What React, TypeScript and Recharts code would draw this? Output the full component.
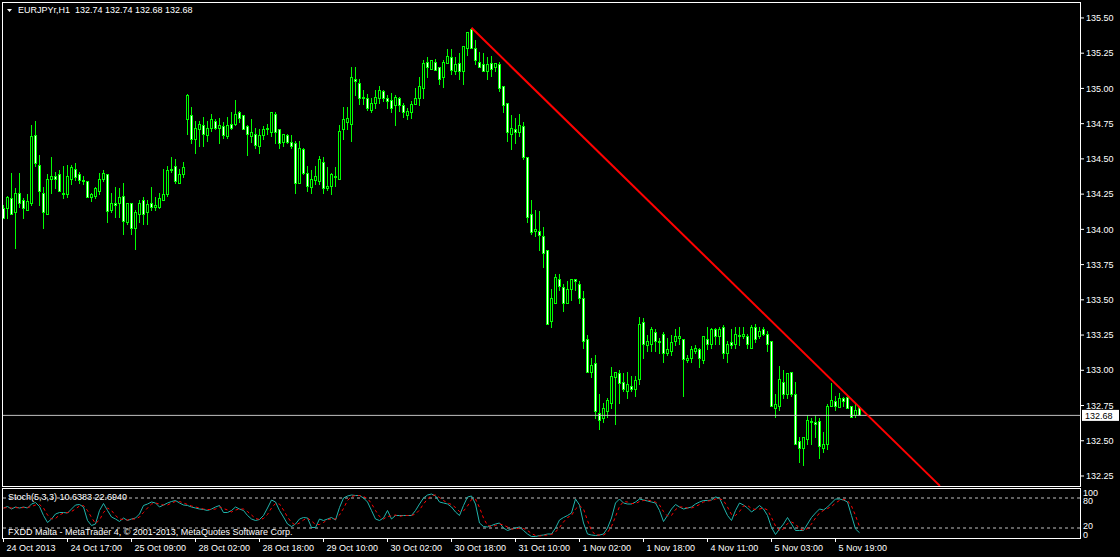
import React from 'react';
import { ComposedChart, LineChart, Line, Bar, XAxis, YAxis, ReferenceLine } from 'recharts';

// EURJPYr H1 bars: [open, high, low, close]
const ohlc: [number, number, number, number][] = [
  [134.15, 134.17, 134.08, 134.08], [134.15, 134.24, 134.08, 134.23], [134.22, 134.40, 134.11, 134.11], [134.12, 134.29, 133.87, 134.26],
  [134.26, 134.40, 134.16, 134.19], [134.21, 134.22, 134.08, 134.15], [134.14, 134.25, 134.14, 134.20], [134.19, 134.74, 134.17, 134.66],
  [134.67, 134.77, 134.45, 134.47], [134.46, 134.53, 134.17, 134.27], [134.26, 134.30, 134.01, 134.12], [134.11, 134.39, 134.11, 134.36],
  [134.36, 134.51, 134.26, 134.38], [134.38, 134.41, 134.29, 134.36], [134.39, 134.42, 134.27, 134.27], [134.26, 134.45, 134.22, 134.25],
  [134.25, 134.46, 134.23, 134.38], [134.36, 134.46, 134.32, 134.44], [134.43, 134.47, 134.35, 134.37], [134.39, 134.41, 134.33, 134.35],
  [134.35, 134.38, 134.32, 134.34], [134.34, 134.34, 134.23, 134.23], [134.23, 134.26, 134.20, 134.25], [134.24, 134.30, 134.22, 134.29],
  [134.27, 134.40, 134.25, 134.36], [134.36, 134.42, 134.34, 134.40], [134.39, 134.39, 134.05, 134.13], [134.14, 134.26, 134.12, 134.19],
  [134.19, 134.30, 134.09, 134.17], [134.19, 134.29, 134.09, 134.23], [134.24, 134.33, 133.97, 134.06], [134.05, 134.19, 134.04, 134.19],
  [134.19, 134.19, 133.97, 134.01], [134.01, 134.14, 133.86, 134.12], [134.11, 134.21, 134.05, 134.19], [134.21, 134.23, 134.04, 134.11],
  [134.12, 134.21, 134.04, 134.18], [134.19, 134.30, 134.14, 134.16], [134.16, 134.23, 134.14, 134.17], [134.16, 134.26, 134.15, 134.22],
  [134.21, 134.43, 134.21, 134.25], [134.25, 134.45, 134.24, 134.42], [134.42, 134.51, 134.41, 134.43], [134.45, 134.50, 134.33, 134.34],
  [134.33, 134.43, 134.33, 134.39], [134.39, 134.48, 134.37, 134.44], [134.78, 134.96, 134.68, 134.95], [134.81, 134.87, 134.61, 134.64],
  [134.64, 134.77, 134.54, 134.72], [134.71, 134.77, 134.59, 134.75], [134.74, 134.80, 134.59, 134.68], [134.67, 134.77, 134.63, 134.72],
  [134.72, 134.82, 134.70, 134.78], [134.77, 134.78, 134.71, 134.72], [134.72, 134.79, 134.61, 134.74], [134.73, 134.76, 134.65, 134.67],
  [134.66, 134.80, 134.65, 134.74], [134.75, 134.83, 134.71, 134.72], [134.75, 134.92, 134.74, 134.82], [134.83, 134.84, 134.76, 134.79],
  [134.81, 134.81, 134.71, 134.71], [134.73, 134.74, 134.53, 134.68], [134.66, 134.78, 134.62, 134.69], [134.68, 134.72, 134.58, 134.60],
  [134.59, 134.71, 134.54, 134.67], [134.67, 134.73, 134.64, 134.71], [134.71, 134.75, 134.68, 134.72], [134.69, 134.83, 134.66, 134.83],
  [134.82, 134.83, 134.61, 134.69], [134.71, 134.71, 134.58, 134.61], [134.62, 134.68, 134.59, 134.68], [134.67, 134.68, 134.61, 134.62],
  [134.62, 134.67, 134.58, 134.59], [134.61, 134.63, 134.26, 134.33], [134.33, 134.63, 134.33, 134.58], [134.57, 134.58, 134.39, 134.40],
  [134.40, 134.45, 134.27, 134.31], [134.30, 134.42, 134.26, 134.36], [134.35, 134.45, 134.32, 134.38], [134.34, 134.52, 134.32, 134.50],
  [134.48, 134.51, 134.26, 134.29], [134.29, 134.44, 134.28, 134.31], [134.31, 134.40, 134.25, 134.39], [134.38, 134.44, 134.31, 134.37],
  [134.36, 134.74, 134.36, 134.70], [134.71, 134.87, 134.64, 134.78], [134.76, 134.87, 134.71, 134.79], [134.75, 135.15, 134.63, 135.08],
  [135.07, 135.15, 134.95, 135.05], [135.04, 135.07, 134.89, 134.93], [134.93, 134.99, 134.89, 134.94], [134.93, 134.96, 134.85, 134.86],
  [134.85, 134.93, 134.83, 134.90], [134.90, 134.99, 134.86, 134.94], [134.93, 135.02, 134.90, 134.99], [134.98, 134.99, 134.91, 134.93],
  [134.93, 134.95, 134.86, 134.91], [134.92, 134.97, 134.83, 134.86], [134.88, 134.95, 134.74, 134.94], [134.93, 134.94, 134.84, 134.88],
  [134.88, 134.90, 134.80, 134.83], [134.81, 134.86, 134.78, 134.84], [134.83, 134.91, 134.79, 134.89], [134.89, 135.00, 134.89, 134.93],
  [134.93, 135.08, 134.88, 135.02], [135.00, 135.20, 134.93, 135.18], [135.19, 135.22, 135.08, 135.15], [135.14, 135.20, 135.14, 135.20],
  [135.19, 135.21, 135.13, 135.13], [135.15, 135.15, 135.03, 135.07], [135.08, 135.20, 135.01, 135.19], [135.18, 135.28, 135.18, 135.23],
  [135.22, 135.28, 135.10, 135.13], [135.12, 135.22, 135.10, 135.17], [135.18, 135.25, 135.07, 135.12], [135.12, 135.30, 135.03, 135.30],
  [135.29, 135.40, 135.24, 135.40], [135.42, 135.43, 135.29, 135.29], [135.29, 135.34, 135.17, 135.20], [135.19, 135.26, 135.15, 135.15],
  [135.17, 135.25, 135.12, 135.12], [135.12, 135.22, 135.07, 135.17], [135.18, 135.23, 135.09, 135.14], [135.15, 135.18, 135.12, 135.18],
  [135.17, 135.19, 134.98, 135.00], [135.02, 135.02, 134.83, 134.88], [134.90, 134.90, 134.63, 134.69], [134.68, 134.81, 134.57, 134.72],
  [134.71, 134.79, 134.61, 134.69], [134.69, 134.82, 134.66, 134.74], [134.73, 134.76, 134.50, 134.51], [134.51, 134.51, 134.05, 134.09],
  [134.11, 134.21, 133.97, 133.98], [133.99, 134.14, 133.95, 134.00], [133.99, 134.13, 133.85, 133.96], [133.95, 134.02, 133.73, 133.83],
  [133.85, 133.85, 133.33, 133.33], [133.35, 133.58, 133.31, 133.51], [133.48, 133.68, 133.48, 133.66], [133.65, 133.68, 133.57, 133.60],
  [133.59, 133.61, 133.42, 133.48], [133.48, 133.63, 133.48, 133.58], [133.58, 133.65, 133.50, 133.65], [133.65, 133.65, 133.57, 133.63],
  [133.61, 133.63, 133.48, 133.51], [133.51, 133.56, 133.16, 133.21], [133.22, 133.25, 132.99, 132.99], [132.99, 133.09, 132.95, 133.04],
  [133.05, 133.11, 132.66, 132.71], [132.70, 132.83, 132.58, 132.65], [132.66, 132.77, 132.63, 132.73], [132.71, 132.80, 132.67, 132.79],
  [132.77, 133.02, 132.73, 132.96], [132.95, 132.99, 132.62, 132.99], [132.98, 133.00, 132.77, 132.91], [132.92, 132.98, 132.85, 132.87],
  [132.85, 132.99, 132.80, 132.90], [132.89, 132.96, 132.85, 132.87], [132.87, 132.96, 132.82, 132.93], [132.94, 133.38, 132.90, 133.33],
  [133.34, 133.37, 133.09, 133.19], [133.18, 133.25, 133.14, 133.21], [133.19, 133.31, 133.14, 133.29], [133.27, 133.29, 133.14, 133.21],
  [133.21, 133.23, 133.12, 133.20], [133.26, 133.27, 133.06, 133.12], [133.12, 133.23, 133.11, 133.15], [133.14, 133.25, 133.11, 133.20],
  [133.21, 133.29, 133.18, 133.24], [133.23, 133.31, 133.19, 133.24], [133.22, 133.22, 132.82, 133.08], [133.07, 133.11, 133.06, 133.09],
  [133.09, 133.17, 133.06, 133.15], [133.14, 133.18, 133.12, 133.16], [133.15, 133.16, 133.02, 133.09], [133.07, 133.24, 133.05, 133.24],
  [133.22, 133.31, 133.15, 133.19], [133.19, 133.30, 133.16, 133.29], [133.29, 133.30, 133.19, 133.24], [133.24, 133.31, 133.19, 133.29],
  [133.31, 133.32, 133.09, 133.12], [133.12, 133.21, 133.06, 133.19], [133.20, 133.29, 133.16, 133.18], [133.19, 133.31, 133.16, 133.26],
  [133.25, 133.31, 133.18, 133.24], [133.24, 133.31, 133.23, 133.26], [133.24, 133.26, 133.16, 133.19], [133.16, 133.32, 133.16, 133.31],
  [133.31, 133.33, 133.20, 133.22], [133.24, 133.31, 133.23, 133.28], [133.29, 133.31, 133.25, 133.26], [133.26, 133.28, 133.14, 133.19],
  [133.21, 133.21, 132.75, 132.75], [132.73, 132.83, 132.67, 132.76], [132.75, 133.03, 132.72, 132.94], [132.92, 133.00, 132.80, 132.83],
  [132.83, 132.98, 132.80, 132.98], [132.99, 132.99, 132.82, 132.83], [132.83, 132.92, 132.48, 132.48], [132.50, 132.53, 132.35, 132.45],
  [132.45, 132.53, 132.33, 132.53], [132.51, 132.68, 132.48, 132.65], [132.64, 132.66, 132.48, 132.63], [132.63, 132.68, 132.53, 132.62],
  [132.64, 132.66, 132.38, 132.46], [132.45, 132.56, 132.42, 132.48], [132.48, 132.76, 132.44, 132.75], [132.75, 132.91, 132.75, 132.79],
  [132.78, 132.82, 132.72, 132.75], [132.74, 132.84, 132.74, 132.80], [132.80, 132.81, 132.75, 132.78], [132.81, 132.82, 132.73, 132.73],
  [132.75, 132.75, 132.67, 132.67], [132.68, 132.77, 132.67, 132.72], [132.74, 132.74, 132.68, 132.68],
];

// Stoch(5,3,3) main and signal lines, one value per bar
const stochK = [
  60, 63, 58, 62, 60, 62, 60, 68, 71, 63, 45, 31, 38, 48, 51, 51, 50, 58, 66, 67,
  62, 35, 25, 28, 55, 69, 55, 42, 38, 33, 40, 35, 38, 40, 48, 65, 68, 72, 70, 62,
  66, 70, 73, 75, 70, 66, 65, 62, 60, 58, 57, 55, 58, 62, 65, 51, 51, 55, 62, 58,
  55, 45, 38, 35, 37, 45, 60, 76, 72, 55, 42, 28, 23, 28, 38, 41, 40, 21, 21, 38,
  35, 38, 41, 36, 61, 80, 84, 86, 85, 85, 80, 72, 55, 38, 35, 40, 55, 38, 45, 45,
  45, 45, 45, 55, 68, 80, 86, 88, 84, 72, 70, 68, 62, 52, 45, 65, 82, 84, 68, 30,
  23, 22, 25, 28, 30, 20, 15, 18, 20, 22, 15, 8, 3, 3, 5, 6, 8, 8, 20, 36,
  41, 45, 50, 78, 66, 30, 8, 6, 5, 6, 8, 20, 40, 70, 78, 70, 68, 68, 72, 78,
  76, 74, 72, 70, 55, 33, 45, 58, 67, 62, 58, 60, 62, 68, 72, 75, 75, 76, 82, 80,
  62, 45, 35, 55, 70, 66, 60, 52, 58, 65, 58, 45, 21, 7, 18, 28, 41, 28, 15, 15,
  15, 28, 41, 50, 58, 56, 62, 70, 78, 78, 76, 72, 45, 18, 10.6383,
];
const stochD = [
  60, 61, 60, 61, 60, 61, 61, 63, 66, 67, 60, 46, 38, 39, 46, 50, 51, 53, 58, 64,
  65, 55, 41, 29, 36, 51, 60, 55, 45, 38, 37, 36, 38, 38, 42, 51, 60, 68, 70, 68,
  66, 66, 70, 73, 73, 70, 67, 64, 62, 60, 58, 57, 57, 58, 62, 59, 56, 52, 56, 58,
  58, 53, 46, 39, 37, 39, 47, 60, 69, 68, 56, 42, 31, 26, 30, 36, 40, 34, 27, 27,
  31, 37, 38, 38, 46, 59, 75, 83, 85, 85, 83, 79, 69, 55, 43, 38, 43, 44, 46, 43,
  45, 45, 45, 48, 56, 68, 78, 85, 86, 81, 75, 70, 67, 61, 53, 54, 64, 77, 78, 61,
  40, 25, 23, 25, 28, 26, 22, 18, 18, 20, 19, 15, 9, 5, 4, 5, 6, 7, 12, 21,
  32, 41, 45, 58, 65, 58, 35, 15, 6, 6, 6, 11, 23, 43, 63, 73, 72, 69, 69, 73,
  75, 76, 74, 72, 66, 53, 44, 45, 57, 62, 62, 60, 60, 63, 67, 72, 74, 75, 78, 79,
  75, 62, 47, 45, 53, 64, 65, 59, 57, 58, 60, 56, 41, 24, 15, 18, 29, 32, 28, 19,
  15, 19, 28, 40, 50, 55, 59, 63, 70, 75, 77, 75, 64, 45, 22.694,
];

const priceTicks = [132.25, 132.5, 132.75, 133, 133.25, 133.5, 133.75, 134, 134.25, 134.5, 134.75, 135, 135.25, 135.5];
const stochTicks = [0, 20, 80, 100];
const labelBars = [0, 16, 32, 48, 64, 80, 96, 112, 128, 144, 160, 176, 192, 208];
const timeLabels = [
  '24 Oct 2013', '24 Oct 17:00', '25 Oct 09:00', '28 Oct 02:00', '28 Oct 18:00', '29 Oct 10:00', '30 Oct 02:00',
  '30 Oct 18:00', '31 Oct 10:00', '1 Nov 02:00', '1 Nov 18:00', '4 Nov 11:00', '5 Nov 03:00', '5 Nov 19:00',
];
const lastPrice = 132.68;
const trendFrom = { x: 117, y: 135.43 };
const trendTo = { x: 234.1, y: 132.18 };

const FONT = "'Liberation Sans', Arial, sans-serif";
const X_DOMAIN: [number, number] = [-0.375, 269.125];

const candleData = ohlc.map(([o, h, l, c], i) => ({ i, o, h, l, c, range: [l, h] }));
const stochData = stochK.map((k, i) => ({ i, k, d: stochD[i] }));

function Candle(props: any) {
  const { x, y, width, height, payload } = props;
  const { o, h, l, c } = payload;
  const cx = Math.floor(x + width / 2) + 0.5;
  const top = Math.min(y, y + height);
  const span = Math.abs(height);
  const k = h === l ? 0 : span / (h - l);
  const py = (v: number) => top + (h - v) * k;
  const bTop = Math.round(py(Math.max(o, c)));
  const bBot = Math.round(py(Math.min(o, c)));
  const bear = c < o;
  return (
    <g shapeRendering="crispEdges">
      <line x1={cx} x2={cx} y1={Math.round(top)} y2={Math.round(top + span) + 1} stroke="#00ff00" strokeWidth={1} />
      <rect x={cx - 1} y={bTop + 0.5} width={2} height={Math.max(bBot - bTop, 0)}
        fill={bear ? '#ffffff' : '#000000'} stroke="#00ff00" strokeWidth={1} />
    </g>
  );
}

function PriceTag(props: any) {
  const vb = props.viewBox || {};
  const x = vb.x + vb.width + 2;
  const y = vb.y;
  return (
    <g>
      <rect x={x} y={y - 5.5} width={37} height={11} fill="#ffffff" />
      <text x={x + 3} y={y + 3.5} fill="#000000" fontSize={9} fontFamily={FONT}>{lastPrice.toFixed(2)}</text>
    </g>
  );
}

function TimeTick(props: any) {
  const { x, y, payload } = props;
  const idx = labelBars.indexOf(payload.value);
  return (
    <text x={x + 3} y={y + 9} fill="#ffffff" fontSize={9} fontFamily={FONT}>{timeLabels[idx]}</text>
  );
}

// scale labels of the oscillator window: 100/80 near the top, 20/0 near the bottom
const stochLabelDy: Record<number, number> = { 100: 8, 80: 6, 20: 1, 0: 0 };

function StochTick(props: any) {
  const { x, y, payload } = props;
  const v = payload.value;
  return (
    <text x={x} y={y + (stochLabelDy[v] ?? 3)} fill="#ffffff" fontSize={9} fontFamily={FONT}>{v}</text>
  );
}

export default function App() {
  return (
    <div style={{ position: 'absolute', left: 0, top: 0, width: 1120, height: 557, background: '#000', overflow: 'hidden', fontFamily: FONT }}>
      <div style={{ position: 'absolute', left: 0, top: 0 }}>
        <ComposedChart width={1120} height={487} data={candleData} margin={{ top: 3, right: 0, bottom: 1, left: 2 }}>
          <XAxis dataKey="i" type="number" domain={X_DOMAIN} hide allowDataOverflow />
          <YAxis orientation="right" width={40} domain={[132.179, 135.606]} ticks={priceTicks} interval={0}
            axisLine={false} tickSize={4} tickMargin={2} tickLine={{ stroke: '#ffffff' }}
            tick={{ fill: '#ffffff', fontSize: 9, fontFamily: FONT }} tickFormatter={(v: number) => v.toFixed(2)}
            allowDataOverflow />
          <ReferenceLine y={lastPrice} stroke="#c0c0c0" strokeWidth={1} label={<PriceTag />} />
          <Bar dataKey="range" barSize={3} isAnimationActive={false} shape={(p: any) => <Candle {...p} />} />
          <ReferenceLine segment={[trendFrom, trendTo]} stroke="#ff0000" strokeWidth={2} />
        </ComposedChart>
      </div>
      <div style={{ position: 'absolute', left: 0, top: 487 }}>
        <LineChart width={1120} height={70} data={stochData} margin={{ top: 1, right: 0, bottom: 0, left: 2 }}>
          <XAxis dataKey="i" type="number" domain={X_DOMAIN} ticks={labelBars} interval={0} height={19}
            axisLine={false} tickSize={4} tickMargin={0} tickLine={{ stroke: '#ffffff' }} tick={<TimeTick />}
            allowDataOverflow />
          <YAxis orientation="right" width={40} domain={[0, 100]} ticks={stochTicks} interval={0}
            axisLine={false} tickLine={false} tickSize={0} tickMargin={3} tick={<StochTick />} />
          <ReferenceLine y={80} stroke="#c0c0c0" strokeDasharray="3 3" />
          <ReferenceLine y={20} stroke="#c0c0c0" strokeDasharray="3 3" />
          <Line dataKey="k" type="linear" stroke="#20b2aa" strokeWidth={1} dot={false} isAnimationActive={false} />
          <Line dataKey="d" type="linear" stroke="#ff0000" strokeWidth={1} strokeDasharray="3 3" dot={false} isAnimationActive={false} />
        </LineChart>
      </div>
      <svg width={1120} height={557} style={{ position: 'absolute', left: 0, top: 0, pointerEvents: 'none' }}>
        <rect x={2.5} y={2.5} width={1078} height={484} fill="none" stroke="#ffffff" strokeWidth={1} />
        <rect x={2.5} y={488.5} width={1078} height={50} fill="none" stroke="#ffffff" strokeWidth={1} />
        <polygon points="7,9 12,9 9.5,12" fill="#ffffff" />
        <text x={18} y={13} fill="#ffffff" fontSize={9} fontFamily={FONT} style={{ whiteSpace: 'pre' }}>
          {'EURJPYr,H1  132.74 132.74 132.68 132.68'}
        </text>
        <text x={8} y={500} fill="#ffffff" fontSize={9} fontFamily={FONT}>Stoch(5,3,3) 10.6383 22.6940</text>
        <text x={8} y={535} fill="#ffffff" fontSize={9} fontFamily={FONT}>
          FXDD Malta - MetaTrader 4, © 2001-2013, MetaQuotes Software Corp.
        </text>
      </svg>
    </div>
  );
}
